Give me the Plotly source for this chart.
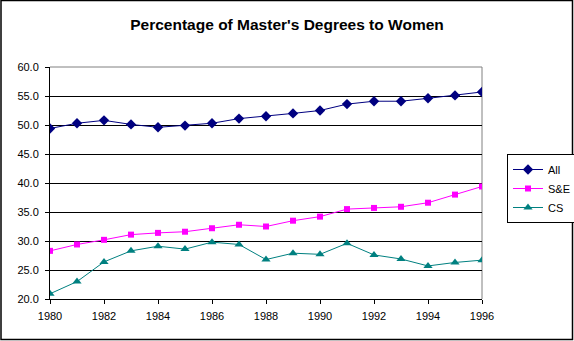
import plotly.graph_objects as go

years = list(range(1980, 1997))
all_vals = [49.4, 50.3, 50.8, 50.1, 49.6, 49.9, 50.3, 51.1, 51.5, 52.0, 52.5, 53.6, 54.1, 54.1, 54.6, 55.1, 55.7]
se_vals = [28.3, 29.4, 30.2, 31.1, 31.4, 31.6, 32.2, 32.8, 32.5, 33.5, 34.2, 35.5, 35.7, 35.9, 36.6, 38.0, 39.4]
cs_vals = [20.9, 23.0, 26.4, 28.3, 29.1, 28.6, 29.8, 29.4, 26.8, 27.9, 27.7, 29.6, 27.6, 26.9, 25.7, 26.3, 26.7]
x_ticks = list(range(1980, 1997, 2))
y_ticks = [20, 25, 30, 35, 40, 45, 50, 55, 60]

W, H = 574, 341
L, R, T, B = 50, 92, 67, 42
pw, ph = W - L - R, H - T - B

def px(x):
    return (x - L) / pw

def py(y):
    return (H - B - y) / ph

fig = go.Figure()
fig.add_trace(go.Scatter(x=years, y=all_vals, name="All", mode="lines+markers",
                         line=dict(color="#000080", width=1),
                         marker=dict(symbol="diamond", size=8, color="#000080")))
fig.add_trace(go.Scatter(x=years, y=se_vals, name="S&E", mode="lines+markers",
                         line=dict(color="#FF00FF", width=1),
                         marker=dict(symbol="square", size=6, color="#FF00FF")))
fig.add_trace(go.Scatter(x=years, y=cs_vals, name="CS", mode="lines+markers",
                         line=dict(color="#008080", width=1),
                         marker=dict(symbol="triangle-up", size=8, color="#008080")))

font = "Liberation Sans, Arial, sans-serif"
fig.update_layout(
    width=W, height=H,
    margin=dict(l=L, r=R, t=T, b=B, pad=0, autoexpand=False),
    paper_bgcolor="white", plot_bgcolor="white",
    title=dict(text="<b>Percentage of Master's Degrees to Women</b>",
               x=0.5, xanchor="center", xref="container", y=1 - 25 / H, yanchor="middle",
               font=dict(family=font, size=15.5, color="black")),
    font=dict(family=font, size=11, color="black"),
    showlegend=True,
    legend=dict(x=px(507), y=py(154), xanchor="left", yanchor="top",
                bordercolor="black", borderwidth=1, bgcolor="white",
                font=dict(family=font, size=11, color="black"),
                tracegroupgap=0, itemwidth=30),
    xaxis=dict(range=[1980, 1996], tickvals=x_ticks, ticktext=[str(v) for v in x_ticks],
               showgrid=False, zeroline=False, showline=True, linecolor="black", linewidth=1,
               ticks="outside", ticklen=4, tickcolor="black", ticklabelstandoff=3,
               tickfont=dict(family=font, size=11, color="black")),
    yaxis=dict(range=[20, 60], tickvals=y_ticks, ticktext=[f"{v:.1f}" for v in y_ticks],
               showgrid=True, gridcolor="black", gridwidth=1, zeroline=False,
               showline=True, linecolor="black", linewidth=1,
               ticks="outside", ticklen=4, tickcolor="black", ticklabelstandoff=4,
               tickfont=dict(family=font, size=11, color="black")),
    shapes=[
        dict(type="line", xref="paper", yref="paper", x0=0, x1=1, y0=1, y1=1,
             line=dict(color="#808080", width=1), layer="above"),
        dict(type="line", xref="paper", yref="paper", x0=1, x1=1, y0=0, y1=1,
             line=dict(color="#808080", width=1), layer="below"),
        dict(type="rect", xref="paper", yref="paper",
             x0=px(1), x1=px(W - 1.5), y0=py(H - 1.5), y1=py(0.5),
             line=dict(color="black", width=1.5), layer="above"),
    ],
)

fig.write_html("out.html")
